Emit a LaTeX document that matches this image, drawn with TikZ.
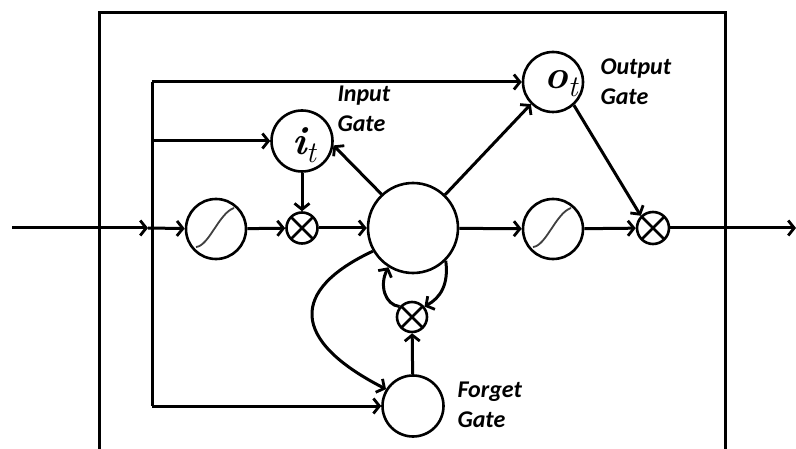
\documentclass[tikz,border=0pt]{standalone}
\usepackage{fontspec}
\usetikzlibrary{arrows.meta,calc}
\newfontfamily\labfont{Carlito}
\newcommand\gatesym[1]{{\fontsize{40}{40}\selectfont\bfseries\itshape #1}\raisebox{-8pt}{\fontsize{30}{30}\selectfont\itshape t}}
\begin{document}
\begin{tikzpicture}[x=1pt,y=-1pt,
  line width=3pt,
  arr/.style={-{Straight Barb[length=6pt,width=15pt,line width=2.8pt]}},
  gcirc/.style={circle,draw,line width=2.6pt,inner sep=0pt,minimum size=#1},
  mult/.style={circle,draw,line width=2.6pt,inner sep=0pt,minimum size=31pt,
    path picture={\draw[line width=2.6pt]
      (path picture bounding box.north west) -- (path picture bounding box.south east)
      (path picture bounding box.north east) -- (path picture bounding box.south west);}},
  sigm/.style={circle,draw,line width=2.6pt,inner sep=0pt,minimum size=60pt,
    path picture={\draw[line width=1.8pt,black!75]
      ($(path picture bounding box.center)+(-20,18)$) .. controls +(13,-1) and +(-15,5) ..
      ($(path picture bounding box.center)+(18,-21)$);}},
  lab/.style={font=\labfont\bfseries\itshape\fontsize{24}{30}\selectfont,align=left,anchor=west,inner sep=0pt},
  mlab/.style={inner sep=0pt},
]
\useasboundingbox (0,0) rectangle (796,449);

% outer box
\coordinate (ob1) at (99,449);
\coordinate (ob2) at (99,13);
\coordinate (ob3) at (725,13);
\coordinate (ob4) at (725,449);
\draw (ob1) -- (ob2) -- (ob3) -- (ob4);

% nodes
\node[gcirc=60pt] (o) at (553,82) {};
\node[mlab] (ot) at (561,84) {\gatesym{o}};
\node[gcirc=61pt] (i) at (302,141) {};
\node[mlab] (itx) at (304,145) {\gatesym{i}};
\node[sigm] (s1) at (216,229) {};
\node[mult] (m1) at (302,228) {};
\node[gcirc=90pt] (c) at (413,228) {};
\node[sigm] (s2) at (553,229) {};
\node[mult,minimum size=32pt] (m2) at (653,228) {};
\node[mult,minimum size=30pt] (m3) at (412,317) {};
\node[gcirc=61pt] (f) at (413,406) {};

% labels
\node[lab] (li) at (336,109) {Input\\Gate};
\node[lab] (lo) at (599,82) {Output\\Gate};
\node[lab] (lf) at (456,405) {Forget\\Gate};

% coordinates
\coordinate (in) at (12,228);
\coordinate (j1a) at (148,228);
\coordinate (tl) at (152,82);
\coordinate (j2) at (152,141);
\coordinate (bl) at (152,406);
\coordinate (out) at (796,228);

% main line
\draw[arr] (in) -- (j1a);
\draw[arr] (j1a) -- (s1);
\draw[arr] (s1) -- (m1);
\draw[arr] (m1) -- (c);
\draw[arr] (c) -- (s2);
\draw[arr] (s2) -- (m2);
\draw[arr] (m2) -- (out);

% inner feed line
\draw (tl) -- (bl);
\draw[arr] (tl) -- (o.west);
\draw[arr] (j2) -- (i.west);
\draw[arr] (bl) -- (f.west);

% gates
\draw[arr] (i) -- (m1);
\draw[arr] (c.133) -- (i.-8);
\draw[arr] (c.46) -- (o.225);
\draw[arr] (o.-48) -- (m2.135);
\draw[arr] (f) -- (m3);

% loops
\draw[arr] (c.-45) .. controls (449,285) and (440,298) .. (m3.40);
\draw[arr] (m3.140) .. controls (385,305) and (379,285) .. (c.-122);
\draw[arr] (c.210) .. controls (290,290) and (290,340) .. (f.148);
\end{tikzpicture}
\end{document}
